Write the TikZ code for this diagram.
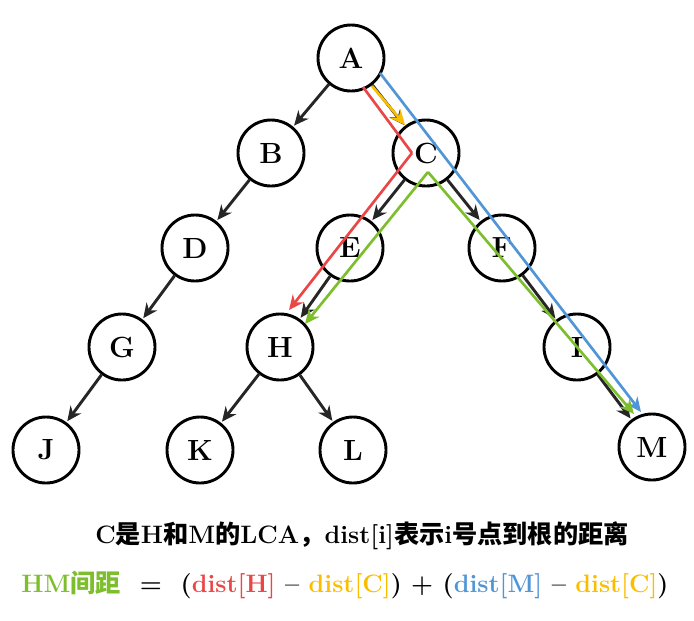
\documentclass[tikz,border=0pt]{standalone}
\usepackage{fontspec}
\newfontfamily\cjk{Noto Sans CJK SC Bold}
\usetikzlibrary{arrows.meta}
\definecolor{redp}{RGB}{235,70,70}
\definecolor{yelp}{RGB}{250,190,0}
\definecolor{blup}{RGB}{80,150,215}
\definecolor{grnp}{RGB}{125,190,45}
\tikzset{
  vert/.style={circle,draw,line width=2.2pt,minimum size=1.75cm,inner sep=0pt,font=\fontsize{22}{24}\selectfont\bfseries},
  tree/.style={line width=2.2pt,draw=black!85,-{Stealth[length=11pt,width=10pt]},shorten >=1pt},
  way/.style={line width=2pt,-{Stealth[length=11pt,width=10pt]}}
}
\begin{document}
\begin{tikzpicture}[x=0.0265cm,y=-0.0265cm]
  \useasboundingbox (0,0) rectangle (694,620);
  % vertices
  \node[vert] (A) at (351,58) {A};
  \node[vert] (B) at (271,153) {B};
  \node[vert] (C) at (426,153) {C};
  \node[vert] (D) at (195,248) {D};
  \node[vert] (E) at (350,248) {E};
  \node[vert] (F) at (502,248) {F};
  \node[vert] (G) at (122,347) {G};
  \node[vert] (H) at (280,347) {H};
  \node[vert] (I) at (577,347) {I};
  \node[vert] (J) at (46,450) {J};
  \node[vert] (K) at (200,450) {K};
  \node[vert] (L) at (353,450) {L};
  \node[vert] (M) at (652,447) {M};
  % tree edges
  \foreach \u/\v in {A/B,A/C,B/D,D/G,G/J,C/E,C/F,E/H,F/I,I/M,H/K,H/L}
    \draw[tree] (\u) -- (\v);
  % coloured paths
  \coordinate (cl) at (412,153);
  \coordinate (cb) at (428,172);
  \draw[way,redp,-] (363,87) -- (cl);
  \draw[way,redp] (cl) -- (289,310);
  \draw[way,yelp] (372,86) -- (405,125);
  \draw[way,blup] (380,73) -- (641,412);
  \draw[way,grnp] (cb) -- (305,324);
  \draw[way,grnp] (cb) -- (634,414);
  % text
  \node[font=\fontsize{19}{22}\selectfont\bfseries] (note) at (362,536) {C{\cjk 是}H{\cjk 和}M{\cjk 的}LCA{\cjk ，}dist[i]{\cjk 表示}i{\cjk 号点到根的距离}};
  \node[font=\fontsize{19}{22}\selectfont\bfseries] (eq) at (345,585) {\color{grnp}HM{\cjk 间距}\color{black}\ \ =\ \ (\color{redp}dist[H]\color{black}\ -- \color{yelp}dist[C]\color{black}) + (\color{blup}dist[M]\color{black}\ -- \color{yelp}dist[C]\color{black})};
\end{tikzpicture}
\end{document}
